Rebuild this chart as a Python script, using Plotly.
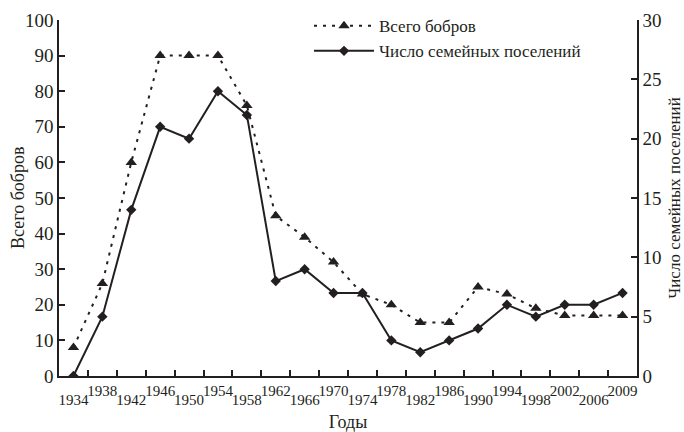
import plotly.graph_objects as go

years = ["1934", "1938", "1942", "1946", "1950", "1954", "1958", "1962", "1966", "1970",
         "1974", "1978", "1982", "1986", "1990", "1994", "1998", "2002", "2006", "2009"]
total_beavers = [8, 26, 60, 90, 90, 90, 76, 45, 39, 32, 23, 20, 15, 15, 25, 23, 19, 17, 17, 17]
family_settlements = [0, 5, 14, 21, 20, 24, 22, 8, 9, 7, 7, 3, 2, 3, 4, 6, 5, 6, 6, 7]

upper_labels = [y if i % 2 == 1 else "" for i, y in enumerate(years)]
lower_vals = [y for i, y in enumerate(years) if i % 2 == 0]

FONT = "Liberation Serif"
INK = "#231f20"

fig = go.Figure()
fig.add_trace(go.Scatter(
    x=years, y=total_beavers, name="Всего бобров", mode="lines+markers",
    line=dict(color=INK, width=2, dash="3px,6px"),
    marker=dict(symbol="triangle-up", size=10, color=INK),
    xaxis="x", yaxis="y"))
fig.add_trace(go.Scatter(
    x=years, y=family_settlements, name="Число семейных поселений", mode="lines+markers",
    line=dict(color=INK, width=2),
    marker=dict(symbol="diamond", size=8, color=INK),
    xaxis="x2", yaxis="y2"))

common_x = dict(type="category", categoryorder="array", categoryarray=years,
                range=[-0.5, 19.5], showgrid=False, zeroline=False, tickangle=0,
                automargin=False, tickfont=dict(size=15))

fig.update_layout(
    width=684, height=432,
    margin=dict(l=59, r=47, t=20, b=56, autoexpand=False),
    paper_bgcolor="white", plot_bgcolor="white",
    font=dict(family=FONT, size=16, color=INK),
    showlegend=True,
    legend=dict(x=309 / 684, y=0.981, xref="container", yref="container",
                xanchor="left", yanchor="top",
                bgcolor="rgba(0,0,0,0)", font=dict(size=17), itemwidth=60,
                tracegroupgap=0),
    xaxis=dict(
        **common_x, tickmode="array", tickvals=years, ticktext=upper_labels,
        tickson="boundaries", ticks="inside", ticklen=6, tickcolor=INK, tickwidth=1.5,
        showline=True, linecolor=INK, linewidth=1.5, ticklabelstandoff=0,
        title=dict(text="Годы", font=dict(size=18), standoff=25)),
    xaxis2=dict(
        **common_x, overlaying="x", anchor="y", side="bottom",
        tickmode="array", tickvals=lower_vals, ticktext=lower_vals,
        ticks="", showline=False, ticklabelstandoff=13),
    yaxis=dict(
        range=[0, 100], dtick=10, ticks="inside", ticklen=6, tickcolor=INK, tickwidth=1.5,
        showline=True, linecolor=INK, linewidth=1.5, showgrid=False, zeroline=False,
        automargin=False,
        tickfont=dict(size=19)),
    yaxis2=dict(
        range=[0, 30], dtick=5, overlaying="y", side="right", anchor="x",
        ticks="inside", ticklen=6, tickcolor=INK, tickwidth=1.5,
        showline=True, linecolor=INK, linewidth=1.5, showgrid=False, zeroline=False,
        automargin=False,
        title=dict(text="Число семейных поселений", font=dict(size=17), standoff=8),
        tickfont=dict(size=19)),
    annotations=[dict(
        text="Всего бобров", textangle=-90, showarrow=False,
        xref="paper", yref="paper", x=(18 - 59) / 578, y=0.5,
        xanchor="center", yanchor="middle", font=dict(size=18, color=INK))],
)

fig.write_html("out.html", post_script="document.body.style.margin='0';",
               config={"displayModeBar": False})
